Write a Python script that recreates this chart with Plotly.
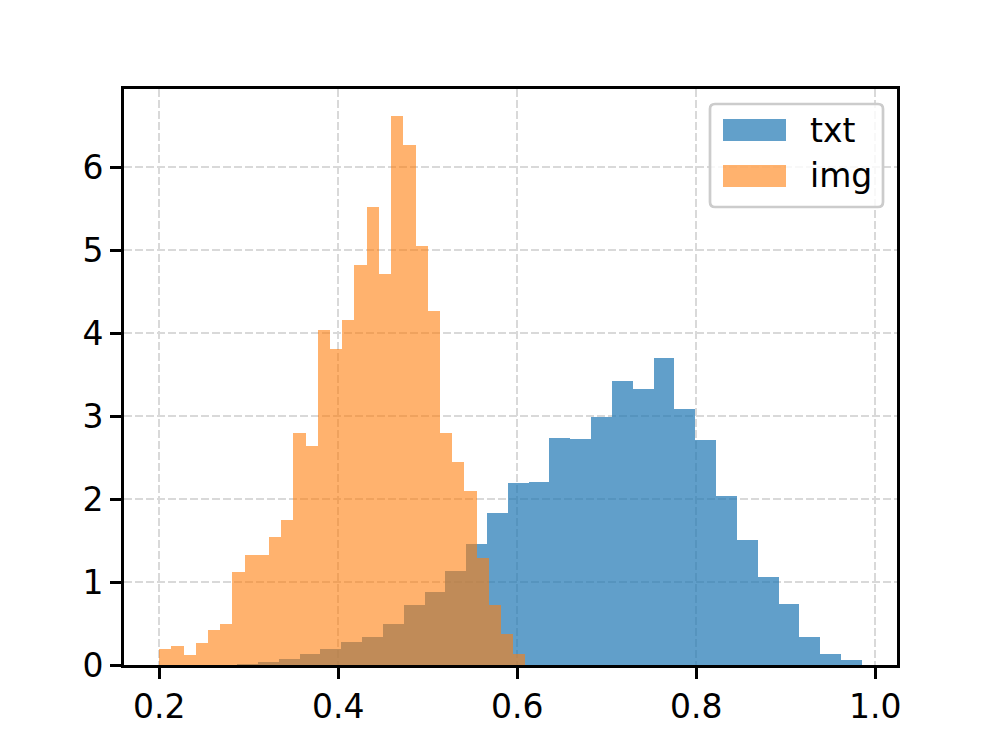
"""
Overlaid density histograms of txt / img scores, rebuilt from bin heights.
"""
import numpy as np
import plotly.graph_objects as go

# bin layout (30 equal bins per series)
txt_range = (0.287, 0.985)
img_range = (0.200, 0.609)
n_bins = 30

# density heights per bin, left to right
txt_density = [0.01, 0.036, 0.068, 0.13, 0.19, 0.28, 0.34, 0.50, 0.72, 0.875,
               1.13, 1.46, 1.83, 2.19, 2.21, 2.74, 2.72, 2.99, 3.42, 3.33,
               3.70, 3.09, 2.71, 2.04, 1.505, 1.06, 0.73, 0.334, 0.129, 0.064]
img_density = [0.19, 0.23, 0.116, 0.27, 0.42, 0.50, 1.125, 1.32, 1.32, 1.545,
               1.745, 2.795, 2.64, 4.04, 3.81, 4.16, 4.82, 5.52, 4.71, 6.61,
               6.26, 5.05, 4.27, 2.795, 2.45, 2.10, 1.29, 0.724, 0.37, 0.137]

series_names = ["txt", "img"]
x_ticks = [0.2, 0.4, 0.6, 0.8, 1.0]
y_ticks = [0, 1, 2, 3, 4, 5, 6]

BLUE = "#1f77b4"
ORANGE = "#ff7f0e"
FONT = "DejaVu Sans"

# figure geometry (pixels) - matches matplotlib default subplot box
# the page body adds an 8px margin, so the figure itself is pulled back by that
W, H = 997, 747
PAGE = 8
L, R, T, B = 124 - PAGE, 897 - PAGE, 89 - PAGE, 665 - PAGE


def bins(rng, values):
    edges = np.linspace(rng[0], rng[1], n_bins + 1)
    return (edges[:-1] + edges[1:]) / 2, edges[1] - edges[0]


def px(x):
    # x given in reference-screen pixels
    return (x - PAGE - L) / (R - L)


def py(y):
    return (B - (y - PAGE)) / (B - T)


fig = go.Figure()

for name, rng, vals, color, alpha in [
    (series_names[0], txt_range, txt_density, BLUE, 0.7),
    (series_names[1], img_range, img_density, ORANGE, 0.6),
]:
    centers, width = bins(rng, vals)
    fig.add_trace(go.Bar(
        x=centers, y=vals, width=width, name=name,
        marker=dict(color=color, line=dict(width=0)),
        opacity=alpha, showlegend=False,
    ))

# hand-drawn legend so the patches get matplotlib's wide shape
bx0, bx1, by0, by1, rad = 710, 883, 104, 207, 5
rx, ry = rad / (R - L), rad / (B - T)
X0, X1, Y0, Y1 = px(bx0), px(bx1), py(by0), py(by1)
box_path = (f"M {X0 + rx},{Y0} L {X1 - rx},{Y0} Q {X1},{Y0} {X1},{Y0 - ry} "
            f"L {X1},{Y1 + ry} Q {X1},{Y1} {X1 - rx},{Y1} "
            f"L {X0 + rx},{Y1} Q {X0},{Y1} {X0},{Y1 + ry} "
            f"L {X0},{Y0 - ry} Q {X0},{Y0} {X0 + rx},{Y0} Z")
fig.add_shape(type="path", path=box_path, xref="paper", yref="paper",
              fillcolor="rgba(255,255,255,0.8)",
              line=dict(color="#cccccc", width=2.7), layer="above")

for i, (name, color, alpha) in enumerate([(series_names[0], BLUE, 0.7),
                                          (series_names[1], ORANGE, 0.6)]):
    top = 119 + i * 46
    fig.add_shape(type="rect", xref="paper", yref="paper",
                  x0=px(723), x1=px(786), y0=py(top), y1=py(top + 22),
                  fillcolor=color, opacity=alpha, line=dict(width=0),
                  layer="above")
    fig.add_annotation(text=name, xref="paper", yref="paper",
                       x=px(808), y=py(top + 11), xanchor="left",
                       yanchor="middle", showarrow=False,
                       font=dict(family=FONT, size=33, color="black"))

axis_common = dict(
    showline=True, mirror=True, linecolor="black", linewidth=2.7,
    ticks="outside", ticklen=11, tickwidth=2.7, tickcolor="black",
    showgrid=True, gridcolor="#d9d9d9", gridwidth=1.6, griddash="8px,3px",
    zeroline=False, layer="above traces",
    tickfont=dict(family=FONT, size=33, color="black"),
)

fig.update_layout(
    width=W, height=H,
    margin=dict(l=L, r=W - R, t=T, b=H - B, pad=0),
    paper_bgcolor="white", plot_bgcolor="white",
    barmode="overlay", bargap=0,
    xaxis=dict(range=[0.1606, 1.0243], tickvals=x_ticks,
               ticktext=[f"{v:.1f}" for v in x_ticks], **axis_common),
    yaxis=dict(range=[0, 6.94], tickvals=y_ticks,
               ticktext=[str(v) for v in y_ticks], **axis_common),
)

fig.write_html("out.html")
